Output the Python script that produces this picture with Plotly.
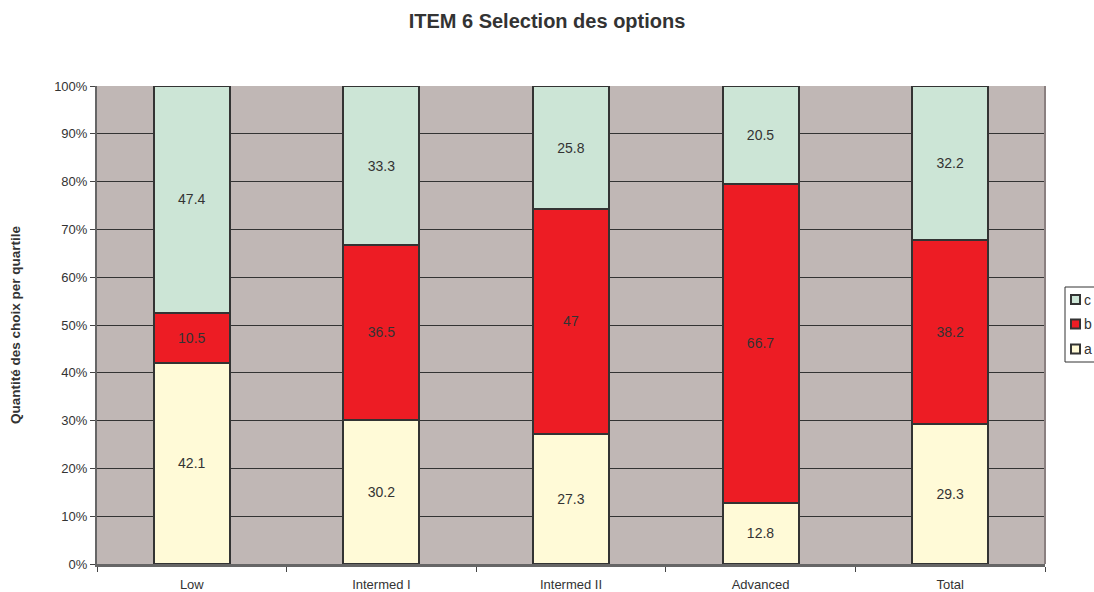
import plotly.graph_objects as go

categories = ["Low", "Intermed I", "Intermed II", "Advanced", "Total"]
a_vals = [42.1, 30.2, 27.3, 12.8, 29.3]
b_vals = [10.5, 36.5, 47, 66.7, 38.2]
c_vals = [47.4, 33.3, 25.8, 20.5, 32.2]
y_ticks = [0, 10, 20, 30, 40, 50, 60, 70, 80, 90, 100]
y_tick_labels = [f"{v}%" for v in y_ticks]

series = [("a", a_vals, "#FFFAD7"), ("b", b_vals, "#ED1C24"), ("c", c_vals, "#CCE5D6")]

W, H = 1094, 592
L, R, T, B = 97, 49, 86, 28
PW, PH = W - L - R, H - T - B


def px_x(p):
    return (p - L) / PW


def px_y(p):
    return (H - B - p) / PH


fig = go.Figure()
for name, vals, color in series:
    fig.add_trace(go.Bar(
        name=name, x=categories, y=vals,
        text=[str(v) for v in vals],
        textposition="inside", insidetextanchor="middle",
        textfont=dict(family="Liberation Sans, Arial", size=14, color="#333333"),
        marker=dict(color=color, line=dict(color="#333333", width=2)),
        width=0.4,
        hoverinfo="skip",
        showlegend=False,
    ))

shapes = []
annotations = []
# custom compact legend (c, b, a from top)
shapes.append(dict(type="rect", xref="paper", yref="paper",
                   x0=px_x(1065), x1=px_x(1110), y0=px_y(362), y1=px_y(287),
                   line=dict(color="#333333", width=1), fillcolor="white", layer="above"))
legend_rows = [("c", "#CCE5D6", 299.5), ("b", "#ED1C24", 324), ("a", "#FFFAD7", 349)]
for name, color, cy in legend_rows:
    shapes.append(dict(type="rect", xref="paper", yref="paper",
                       x0=px_x(1071), x1=px_x(1080), y0=px_y(cy + 4.5), y1=px_y(cy - 4.5),
                       line=dict(color="#333333", width=2), fillcolor=color, layer="above"))
    annotations.append(dict(text=name, xref="paper", yref="paper", x=px_x(1082), y=px_y(cy),
                            xanchor="left", yanchor="middle", showarrow=False,
                            font=dict(size=14, color="#333333")))
shapes.append(dict(type="line", xref="paper", yref="paper", x0=1, x1=1, y0=0, y1=1,
                   line=dict(color="#8A8080", width=2)))

fig.update_layout(
    width=W, height=H,
    barmode="stack", barnorm="percent",
    paper_bgcolor="white", plot_bgcolor="#C0B7B5",
    margin=dict(l=L, r=R, t=T, b=B, autoexpand=False),
    title=dict(text="<b>ITEM 6 Selection des options</b>", x=0.5, xanchor="center",
               y=0.965, yanchor="middle",
               font=dict(family="Liberation Sans, Arial", size=20, color="#333333")),
    font=dict(family="Liberation Sans, Arial", size=13, color="#333333"),
    showlegend=False,
    shapes=shapes,
    annotations=annotations,
    uniformtext=dict(mode="show", minsize=14),
)
fig.update_xaxes(
    type="category", tickson="boundaries", ticks="outside", ticklen=5,
    tickcolor="#444444", showline=True, linecolor="#666666", linewidth=3,
    mirror=False, tickfont=dict(size=13, color="#333333"), showgrid=False,
    ticklabelstandoff=6,
)
fig.update_yaxes(
    range=[0, 100], tickvals=y_ticks, ticktext=y_tick_labels,
    ticks="outside", ticklen=5, tickcolor="#444444",
    showline=True, linecolor="#666666", linewidth=2,
    showgrid=True, gridcolor="#333333", gridwidth=1,
    tickfont=dict(size=13, color="#333333"),
    title=dict(text="<b>Quantité des choix per quartile</b>", font=dict(size=13.5, color="#333333"), standoff=30),
    zeroline=False,
)

fig.write_html("out.html")
